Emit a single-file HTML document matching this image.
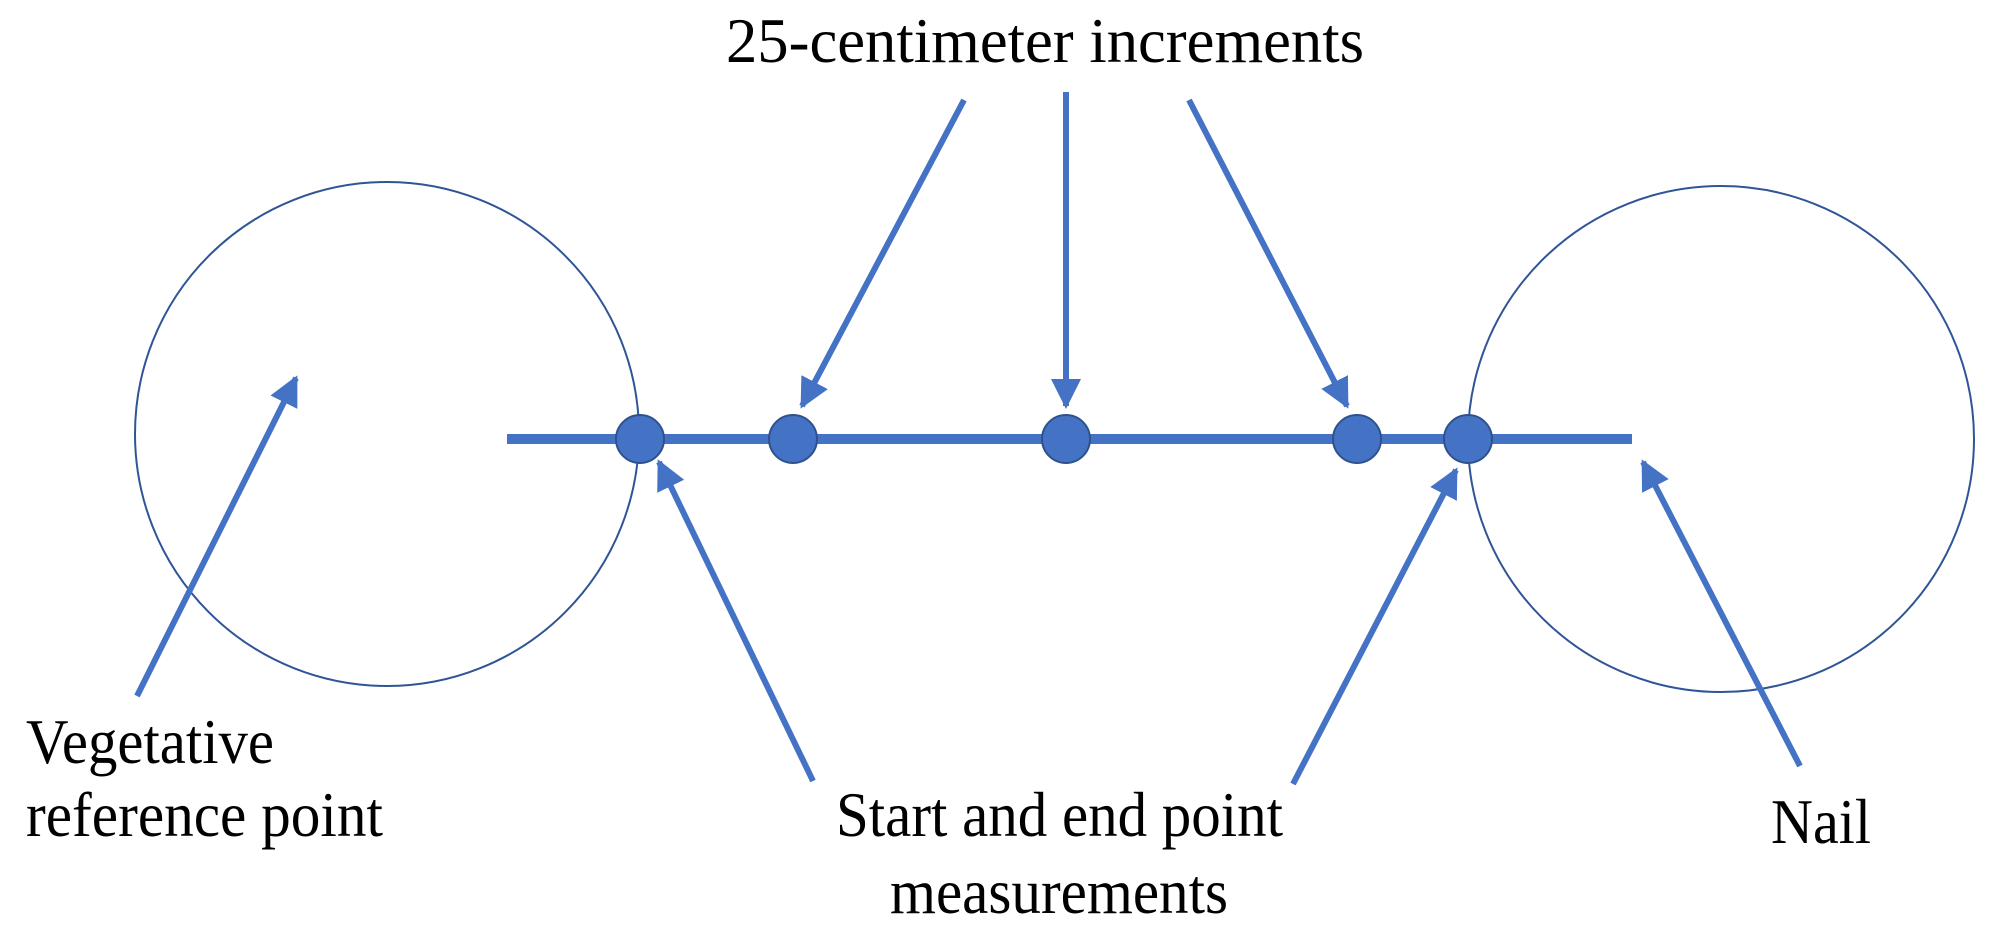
<!DOCTYPE html>
<html><head><meta charset="utf-8"><style>html,body{margin:0;padding:0;background:#fff}</style></head>
<body>
<svg width="2002" height="928" viewBox="0 0 2002 928" xmlns="http://www.w3.org/2000/svg">
<defs>
<marker id="a" viewBox="0 0 10 10" refX="9" refY="5" markerWidth="5" markerHeight="5" orient="auto" markerUnits="strokeWidth">
<path d="M0,0 L10,5 L0,10 z" fill="#4472C4"/>
</marker>
</defs>
<circle cx="387" cy="434" r="252" fill="none" stroke="#2F5597" stroke-width="2"/>
<circle cx="1721" cy="439" r="253" fill="none" stroke="#2F5597" stroke-width="2"/>
<line x1="507" y1="439" x2="1632" y2="439" stroke="#4472C4" stroke-width="10"/>
<g fill="#4472C4" stroke="#2F528F" stroke-width="2">
<circle cx="640" cy="439" r="24"/><circle cx="793" cy="439" r="24"/><circle cx="1066" cy="439" r="24"/><circle cx="1357" cy="439" r="24"/><circle cx="1468" cy="439" r="24"/>
</g>
<g stroke="#4472C4" stroke-width="6" marker-end="url(#a)">
<line x1="964" y1="100" x2="802" y2="406"/>
<line x1="1066" y1="92" x2="1066" y2="406"/>
<line x1="1189" y1="100" x2="1347" y2="406"/>
<line x1="137" y1="696" x2="296" y2="378"/>
<line x1="813" y1="781" x2="659" y2="462"/>
<line x1="1293" y1="784" x2="1456" y2="470"/>
<line x1="1800" y1="766" x2="1643" y2="462"/>
</g>
<g font-family="Liberation Serif, serif" font-size="64" fill="#000">
<text x="726" y="62" textLength="638" lengthAdjust="spacingAndGlyphs">25-centimeter increments</text>
<text x="26" y="763" textLength="248" lengthAdjust="spacingAndGlyphs">Vegetative</text>
<text x="26" y="836" textLength="357" lengthAdjust="spacingAndGlyphs">reference point</text>
<text x="836" y="836" textLength="447" lengthAdjust="spacingAndGlyphs">Start and end point</text>
<text x="890" y="913" textLength="338" lengthAdjust="spacingAndGlyphs">measurements</text>
<text x="1771" y="843" textLength="100" lengthAdjust="spacingAndGlyphs">Nail</text>
</g>
</svg>
</body></html>
